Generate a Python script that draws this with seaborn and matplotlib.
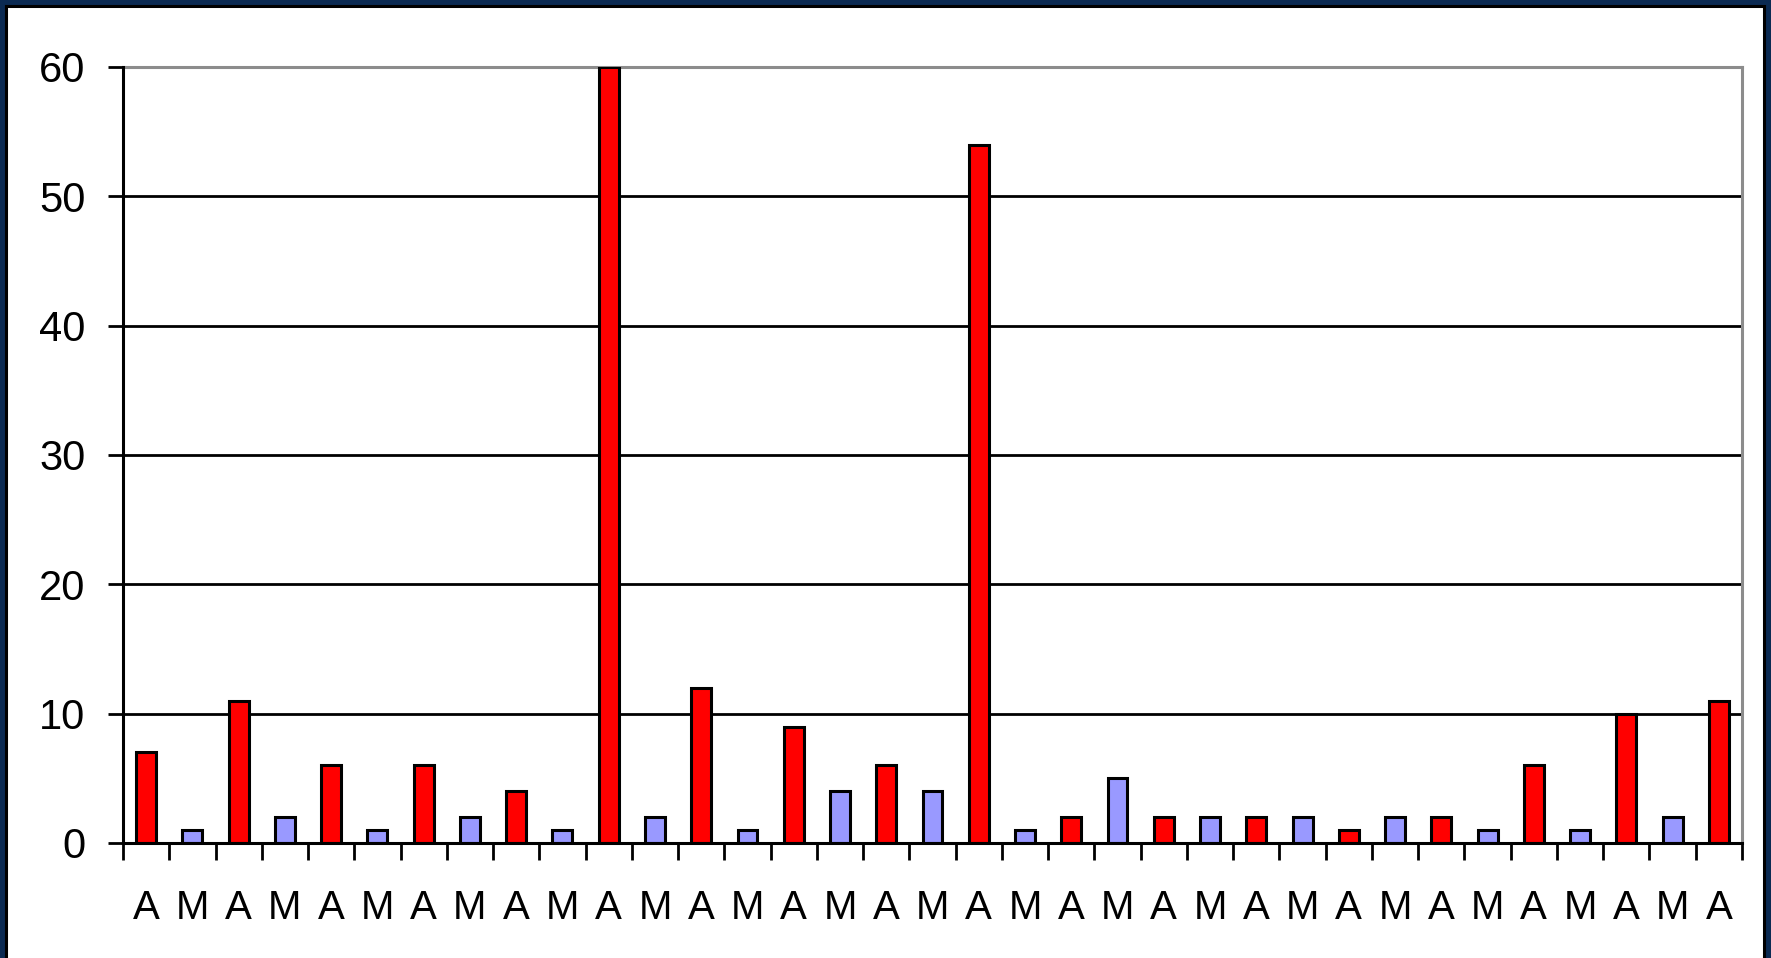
import matplotlib
matplotlib.use("Agg")
import matplotlib.pyplot as plt
from matplotlib.patches import Rectangle
from matplotlib.ticker import FixedLocator
import seaborn as sns
import pandas as pd
import numpy as np

# Alternating groups: A (red) and M (light blue)
labels = ["A", "M"] * 17 + ["A"]
values = [7, 1, 11, 2, 6, 1, 6, 2, 4, 1, 60, 2, 12, 1, 9, 4, 6, 4, 54,
          1, 2, 5, 2, 2, 2, 2, 1, 2, 2, 1, 6, 1, 10, 2, 11]
yticks = [0, 10, 20, 30, 40, 50, 60]
palette = {"A": "#ff0000", "M": "#9999ff"}

df = pd.DataFrame({
    "pos": [str(i) for i in range(len(values))],
    "group": labels,
    "value": values,
})

sns.set_theme(style="white")
plt.rcParams["font.family"] = ["Liberation Sans", "DejaVu Sans"]

W, H = 1771, 958
fig = plt.figure(figsize=(W / 100, H / 100), dpi=100)
fig.patch.set_facecolor("#0b2a52")

# white slide panel with thin black rim, kept behind the axes
fig.patches.append(Rectangle((6 / W, -0.01), (1764 - 6) / W, (952 + 10) / H,
                             transform=fig.transFigure, facecolor="white",
                             edgecolor="black", linewidth=2.2, zorder=-5))

ax = fig.add_axes([123 / W, 1 - 843 / H, (1742 - 123) / W, (843 - 67) / H])
ax.set_zorder(2)
ax.set_facecolor("white")

sns.barplot(data=df, x="pos", y="value", hue="group", palette=palette,
            saturation=1, dodge=False, width=0.43, edgecolor="black",
            linewidth=2.2, legend=False, ax=ax, zorder=3)

ax.set_xlim(-0.5, len(values) - 0.5)
ax.set_ylim(0, 60)
ax.set_yticks(yticks)
ax.set_yticklabels([str(t) for t in yticks])
ax.set_xticks(range(len(values)))
ax.set_xticklabels(labels)
ax.xaxis.set_minor_locator(FixedLocator(np.arange(-0.5, len(values), 1.0)))
ax.set_xlabel("")
ax.set_ylabel("")

for y in yticks[1:-1]:
    ax.axhline(y, color="black", linewidth=2.0, zorder=1)

for side in ["top", "right"]:
    ax.spines[side].set_visible(True)
    ax.spines[side].set_color("#8c8c8c")
    ax.spines[side].set_linewidth(2.2)
for side in ["left", "bottom"]:
    ax.spines[side].set_visible(True)
    ax.spines[side].set_color("black")
    ax.spines[side].set_linewidth(2.2)
    ax.spines[side].set_zorder(4)

ax.tick_params(axis="y", which="major", direction="out", length=11, width=2.0,
               color="black", left=True, pad=16, labelsize=30, labelcolor="black")
ax.tick_params(axis="x", which="major", length=0, pad=33, labelsize=29,
               labelcolor="black", bottom=True)
ax.tick_params(axis="x", which="minor", direction="out", length=12, width=2.0,
               color="black", bottom=True)

fig.savefig("out.png", dpi=100, facecolor=fig.get_facecolor())
